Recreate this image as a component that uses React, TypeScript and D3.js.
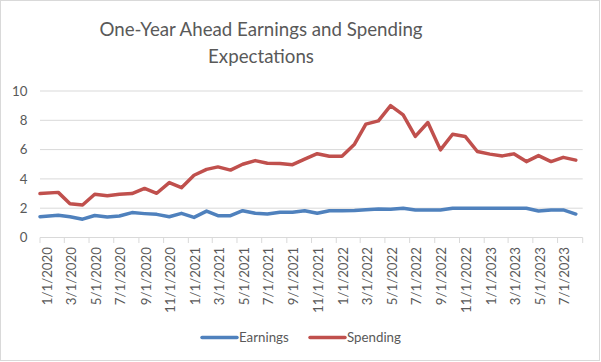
import React from "react";
import * as d3 from "d3";

const dates: string[] = [
  "2020-01-01", "2020-02-15", "2020-03-15", "2020-04-15", "2020-05-15", "2020-06-15",
  "2020-07-15", "2020-08-15", "2020-09-15", "2020-10-15", "2020-11-15", "2020-12-15",
  "2021-01-15", "2021-02-15", "2021-03-15", "2021-04-15", "2021-05-15", "2021-06-15",
  "2021-07-15", "2021-08-15", "2021-09-15", "2021-10-15", "2021-11-15", "2021-12-15",
  "2022-01-15", "2022-02-15", "2022-03-15", "2022-04-15", "2022-05-15", "2022-06-15",
  "2022-07-15", "2022-08-15", "2022-09-15", "2022-10-15", "2022-11-15", "2022-12-15",
  "2023-01-15", "2023-02-15", "2023-03-15", "2023-04-15", "2023-05-15", "2023-06-15",
  "2023-07-15", "2023-08-15",
];

const earnings: number[] = [
  1.42, 1.52, 1.42, 1.25, 1.5, 1.4, 1.47, 1.7, 1.63, 1.58, 1.42, 1.65,
  1.37, 1.8, 1.49, 1.49, 1.83, 1.65, 1.6, 1.72, 1.72, 1.83, 1.65, 1.83,
  1.83, 1.85, 1.9, 1.95, 1.93, 2.0, 1.88, 1.88, 1.88, 2.0, 2.0, 2.0,
  2.0, 2.0, 2.0, 2.0, 1.81, 1.88, 1.88, 1.6,
];

const spending: number[] = [
  3.0, 3.08, 2.3, 2.22, 2.95, 2.85, 2.95, 3.0, 3.35, 3.02, 3.75, 3.4,
  4.25, 4.65, 4.82, 4.6, 5.0, 5.25, 5.07, 5.05, 4.97, 5.35, 5.72, 5.55,
  5.55, 6.37, 7.74, 7.96, 9.0, 8.37, 6.9, 7.85, 5.98, 7.05, 6.9, 5.87,
  5.69, 5.57, 5.71, 5.18, 5.59, 5.18, 5.47, 5.28,
];

const tickDates: string[] = [
  "2020-01-01", "2020-03-01", "2020-05-01", "2020-07-01", "2020-09-01", "2020-11-01",
  "2021-01-01", "2021-03-01", "2021-05-01", "2021-07-01", "2021-09-01", "2021-11-01",
  "2022-01-01", "2022-03-01", "2022-05-01", "2022-07-01", "2022-09-01", "2022-11-01",
  "2023-01-01", "2023-03-01", "2023-05-01", "2023-07-01", "2023-09-01",
];

const tickLabels: string[] = [
  "1/1/2020", "3/1/2020", "5/1/2020", "7/1/2020", "9/1/2020", "11/1/2020",
  "1/1/2021", "3/1/2021", "5/1/2021", "7/1/2021", "9/1/2021", "11/1/2021",
  "1/1/2022", "3/1/2022", "5/1/2022", "7/1/2022", "9/1/2022", "11/1/2022",
  "1/1/2023", "3/1/2023", "5/1/2023", "7/1/2023", "",
];

const yTicks: number[] = [0, 2, 4, 6, 8, 10];

const seriesNames = ["Earnings", "Spending"];
const seriesColors = ["#4F81BD", "#C0504D"];

const W = 601;
const H = 362;
const FONT = "Lato, 'Open Sans', sans-serif";
const TXT = "#595959";
const GRID = "#d9d9d9";

function parse(s: string): Date {
  const [y, m, d] = s.split("-").map(Number);
  return new Date(Date.UTC(y, m - 1, d));
}

export default function App() {
  const x = d3
    .scaleUtc()
    .domain([parse(tickDates[0]), parse(tickDates[tickDates.length - 1])])
    .range([40, 582.7]);
  const y = d3.scaleLinear().domain([0, 10]).range([237.5, 91]);

  const line = d3
    .line<number>()
    .x((_, i) => x(parse(dates[i])))
    .y((v) => y(v));

  const series = [earnings, spending];

  return (
    <svg
      width={W}
      height={H}
      style={{ position: "absolute", left: 0, top: 0, background: "#fff" }}
      fontFamily={FONT}
    >
      <rect x={0.5} y={0.5} width={599} height={360} fill="#fff" stroke={GRID} strokeWidth={1} />
      <text x={261} y={36} textAnchor="middle" fontSize={18.7} fill={TXT}>
        One-Year Ahead Earnings and Spending
      </text>
      <text x={261} y={63} textAnchor="middle" fontSize={18.7} fill={TXT}>
        Expectations
      </text>

      {yTicks.map((t) => (
        <g key={t}>
          <line x1={40} x2={582.7} y1={y(t)} y2={y(t)} stroke={GRID} strokeWidth={1} />
          <text x={27.5} y={y(t)} dy="0.35em" textAnchor="end" fontSize={13.3} fill={TXT}>
            {t}
          </text>
        </g>
      ))}

      {tickDates.map((d, i) => {
        const xp = x(parse(d));
        return (
          <g key={d}>
            <line x1={xp} x2={xp} y1={237.5} y2={243} stroke={GRID} strokeWidth={1} />
            {tickLabels[i] && (
              <text
                transform={`translate(${xp + 7},247) rotate(-90)`}
                textAnchor="end"
                dy="0.35em"
                fontSize={13.3}
                fill={TXT}
              >
                {tickLabels[i]}
              </text>
            )}
          </g>
        );
      })}

      {series.map((s, k) => (
        <path
          key={k}
          d={line(s) || ""}
          fill="none"
          stroke={seriesColors[k]}
          strokeWidth={3.5}
          strokeLinejoin="round"
          strokeLinecap="round"
        />
      ))}

      {seriesNames.map((n, k) => {
        const lx = k === 0 ? 202 : 310;
        return (
          <g key={n}>
            <line
              x1={lx}
              x2={lx + 35}
              y1={337.5}
              y2={337.5}
              stroke={seriesColors[k]}
              strokeWidth={3.5}
              strokeLinecap="round"
            />
            <text x={lx + 37} y={337.5} dy="0.35em" fontSize={13.3} fill={TXT}>
              {n}
            </text>
          </g>
        );
      })}
    </svg>
  );
}
